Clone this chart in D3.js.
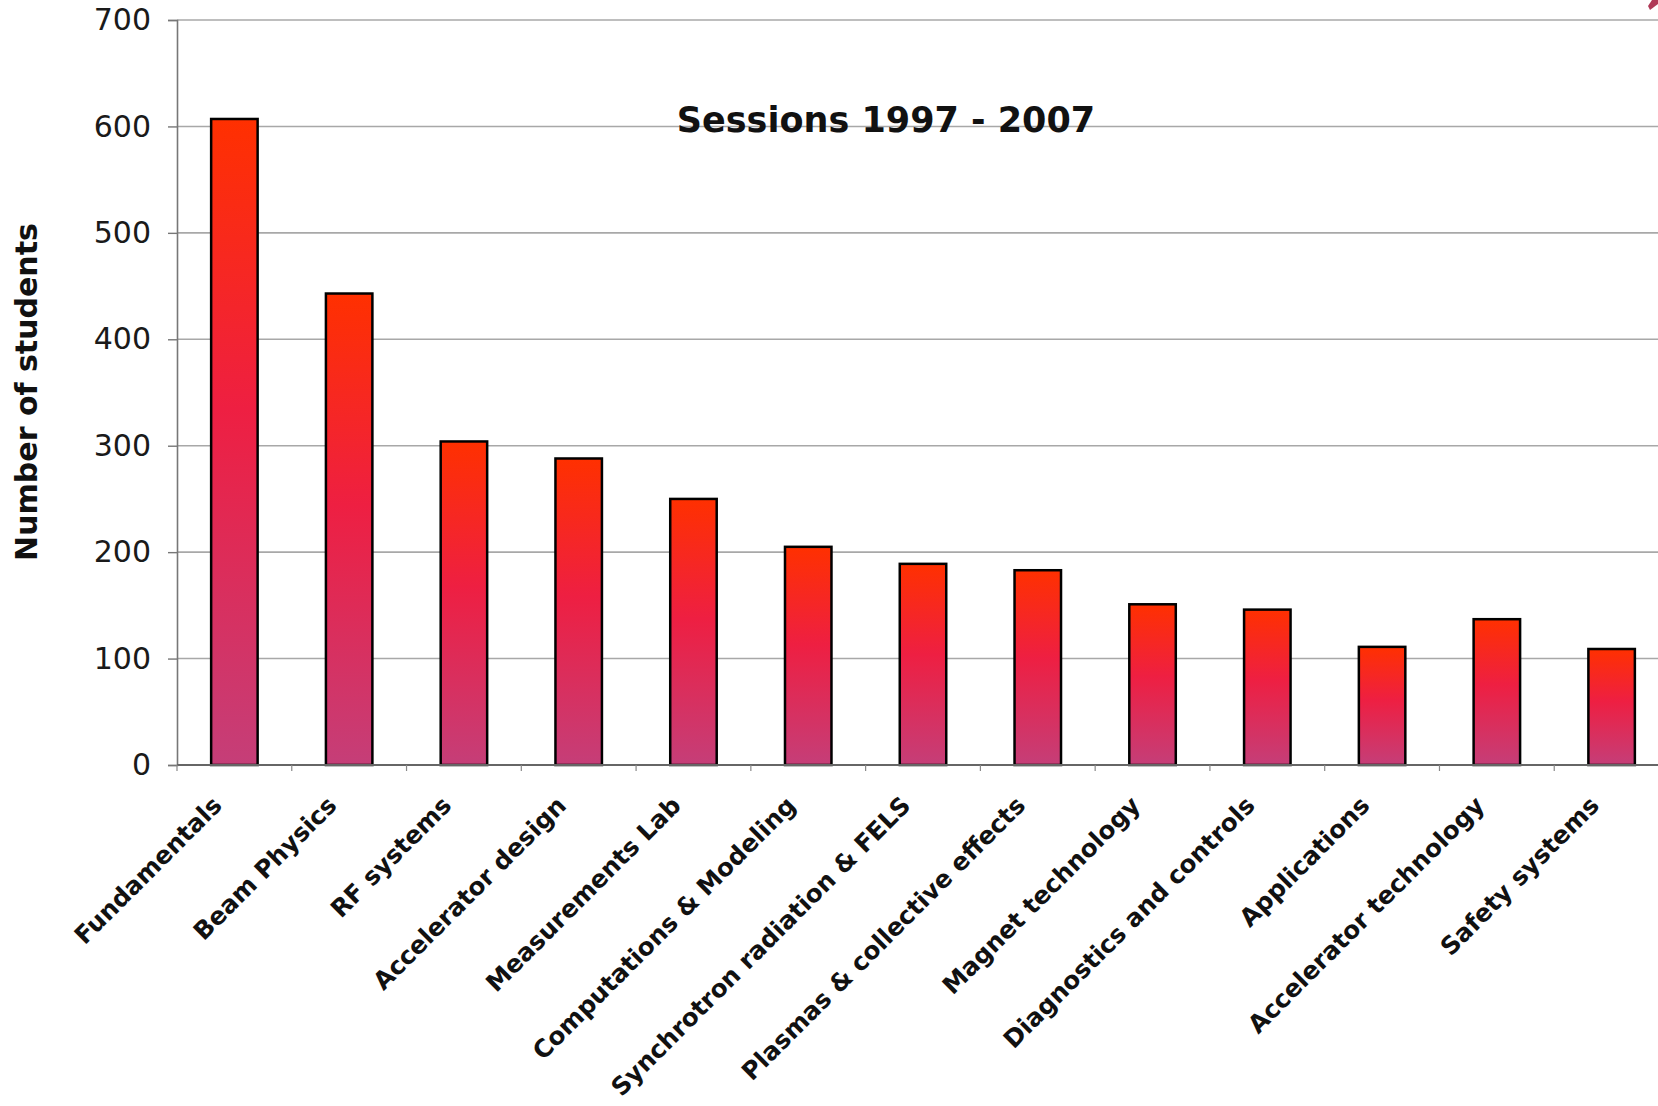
<!DOCTYPE html>
<html>
<head>
<meta charset="utf-8">
<script src="https://cdn.jsdelivr.net/npm/d3@7"></script>
<style>
  html, body { margin: 0; padding: 0; background: #fff; }
  svg { display: block; font-family: "DejaVu Sans", Verdana, sans-serif; }
</style>
</head>
<body>
<div id="chart"></div>
<script>
// Students per course topic, sessions 1997 - 2007
const topics = [
  "Fundamentals", "Beam Physics", "RF systems", "Accelerator design",
  "Measurements Lab", "Computations & Modeling", "Synchrotron radiation & FELS",
  "Plasmas & collective effects", "Magnet technology", "Diagnostics and controls",
  "Applications", "Accelerator technology", "Safety systems"
];
const students = [607, 443, 304, 288, 250, 205, 189, 183, 151, 146, 111, 137, 109];
const yTicks = [0, 100, 200, 300, 400, 500, 600, 700];

class BarChart {
  constructor(_config, _cats, _vals) {
    this.config = {
      parentElement: _config.parentElement,
      containerWidth: _config.containerWidth || 1658,
      containerHeight: _config.containerHeight || 1106,
      margin: _config.margin || { top: 20, right: 0, bottom: 341, left: 177 },
    };
    this.cats = _cats;
    this.vals = _vals;
    this.initVis();
  }

  initVis() {
    let vis = this;
    const m = vis.config.margin;
    vis.height = vis.config.containerHeight - m.top - m.bottom;

    vis.svg = d3.select(vis.config.parentElement)
      .append("svg")
      .attr("width", vis.config.containerWidth)
      .attr("height", vis.config.containerHeight);

    // bar fill, red on top fading to pink at the bottom
    const grad = vis.svg.append("defs").append("linearGradient")
      .attr("id", "barGrad")
      .attr("x1", 0).attr("y1", 0).attr("x2", 0).attr("y2", 1);
    grad.append("stop").attr("offset", "0%").attr("stop-color", "#ff3000");
    grad.append("stop").attr("offset", "45%").attr("stop-color", "#ee1f42");
    grad.append("stop").attr("offset", "100%").attr("stop-color", "#c53e78");

    vis.chart = vis.svg.append("g")
      .attr("transform", `translate(${m.left},${m.top})`);

    // the plot runs off the right edge of the picture
    vis.xScale = d3.scaleBand()
      .domain(vis.cats)
      .range([0, 114.77 * vis.cats.length])
      .paddingInner(0.595)
      .paddingOuter(0.2975);
    vis.yScale = d3.scaleLinear().domain([0, 700]).range([vis.height, 0]);

    // gridlines
    vis.chart.append("g")
      .selectAll("line")
      .data(yTicks.filter(d => d > 0))
      .join("line")
      .attr("x1", 0)
      .attr("x2", vis.xScale.range()[1])
      .attr("y1", d => vis.yScale(d))
      .attr("y2", d => vis.yScale(d))
      .attr("stroke", "#a8a8a8")
      .attr("stroke-width", 1.6);

    // y axis
    vis.yAxis = vis.chart.append("g")
      .call(d3.axisLeft(vis.yScale).tickValues(yTicks).tickSize(9).tickPadding(17));
    vis.yAxis.select(".domain").attr("stroke", "#777").attr("stroke-width", 1.6);
    vis.yAxis.selectAll(".tick line").attr("stroke", "#777").attr("stroke-width", 1.4);
    vis.yAxis.selectAll(".tick text")
      .attr("font-size", 30)
      .attr("font-family", "DejaVu Sans")
      .attr("fill", "#1a1a1a");

    // bars
    vis.chart.selectAll(".bar")
      .data(vis.cats.map((c, i) => ({ cat: c, val: vis.vals[i] })))
      .join("rect")
      .attr("class", "bar")
      .attr("x", d => vis.xScale(d.cat))
      .attr("y", d => vis.yScale(d.val))
      .attr("width", vis.xScale.bandwidth())
      .attr("height", d => vis.height - vis.yScale(d.val))
      .attr("fill", "url(#barGrad)")
      .attr("stroke", "#000")
      .attr("stroke-width", 2.5);

    // x axis line with small ticks between the categories
    const xg = vis.chart.append("g").attr("transform", `translate(0,${vis.height})`);
    xg.append("line")
      .attr("x1", 0).attr("x2", vis.xScale.range()[1])
      .attr("stroke", "#666").attr("stroke-width", 1.8);
    xg.selectAll(".xtick")
      .data(d3.range(vis.cats.length + 1))
      .join("line")
      .attr("class", "xtick")
      .attr("x1", i => i * vis.xScale.step())
      .attr("x2", i => i * vis.xScale.step())
      .attr("y1", 0).attr("y2", 6)
      .attr("stroke", "#888").attr("stroke-width", 1.2);

    // rotated category labels
    xg.selectAll(".xlabel")
      .data(vis.cats)
      .join("text")
      .attr("class", "xlabel")
      .attr("transform", d =>
        `translate(${vis.xScale(d) + vis.xScale.bandwidth() / 2 - 11},42) rotate(-45)`)
      .attr("text-anchor", "end")
      .attr("font-size", 24.6)
      .attr("font-weight", "bold")
      .attr("fill", "#111")
      .text(d => d);

    // y axis title
    vis.svg.append("text")
      .attr("transform", "translate(37,392) rotate(-90)")
      .attr("text-anchor", "middle")
      .attr("font-size", 30)
      .attr("font-weight", "bold")
      .attr("fill", "#111")
      .text("Number of students");

    // chart title
    vis.svg.append("text")
      .attr("x", 886)
      .attr("y", 132)
      .attr("text-anchor", "middle")
      .attr("font-size", 35)
      .attr("font-weight", "bold")
      .attr("fill", "#111")
      .text("Sessions 1997 - 2007");

    // bit of a red arrow poking in at the top right corner
    vis.svg.append("path")
      .attr("d", "M1658,0 L1658,4 L1650,10 L1648,6 L1652,0 Z")
      .attr("fill", "#b03a58");
  }
}

new BarChart({ parentElement: "#chart" }, topics, students);
</script>
</body>
</html>
